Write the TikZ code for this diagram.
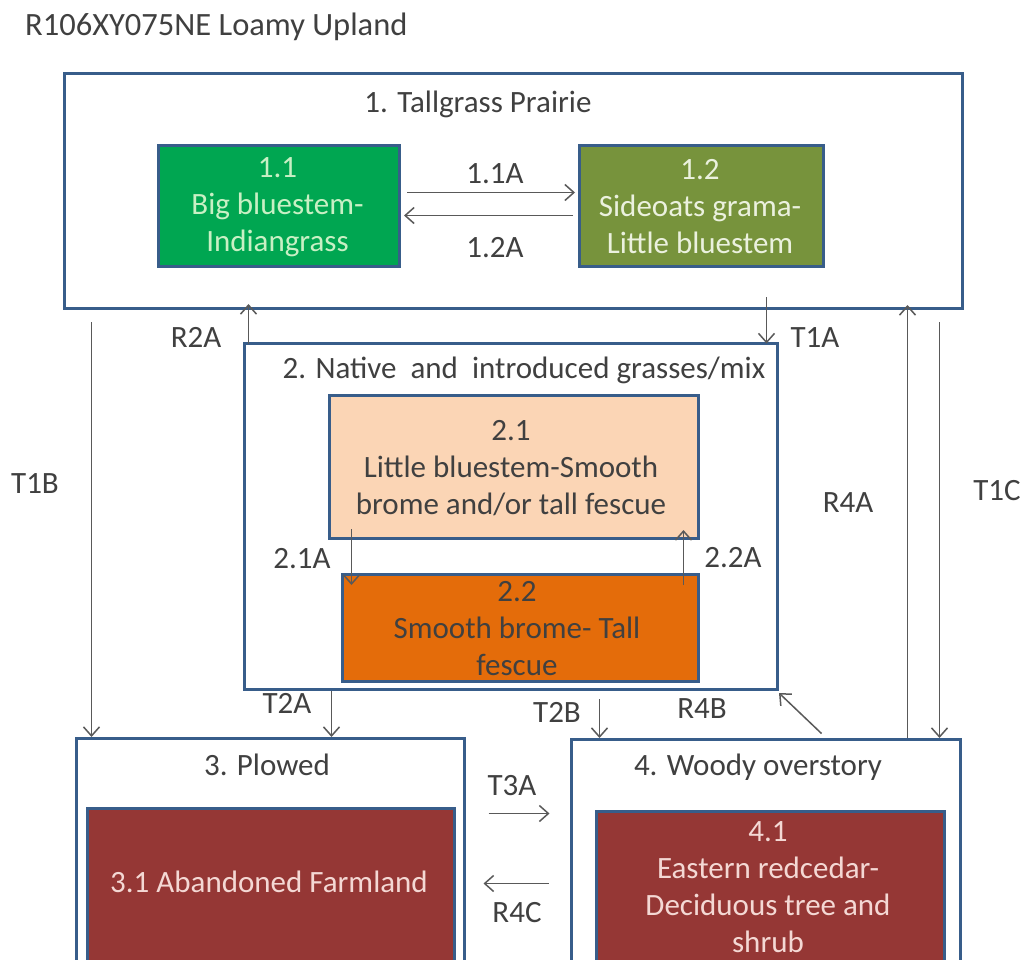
\documentclass[tikz,border=0pt]{standalone}
\usepackage{fontspec}
\setmainfont{Carlito}
\usetikzlibrary{calc,arrows.meta}
\definecolor{bordc}{HTML}{385D8A}
\definecolor{arrc}{HTML}{595959}
\definecolor{txtc}{HTML}{404040}
\definecolor{cA}{HTML}{00A651}
\definecolor{cAt}{HTML}{C8F0C4}
\definecolor{cB}{HTML}{77933C}
\definecolor{cBt}{HTML}{EBF1DE}
\definecolor{cC}{HTML}{FBD5B5}
\definecolor{cD}{HTML}{E46C0A}
\definecolor{cE}{HTML}{953735}
\definecolor{cEt}{HTML}{F4D8D4}
\begin{document}
\begin{tikzpicture}[x=1pt,y=-1pt,
  every node/.style={font=\fontsize{31}{37}\selectfont},
  statebox/.style={draw=bordc, line width=3pt, anchor=north west, inner sep=0pt},
  lbl/.style={text=txtc, inner sep=0pt, anchor=base},
  stext/.style={align=center, inner sep=0pt, anchor=center},
  arr/.style={draw=arrc, line width=1.5pt, -{Straight Barb[length=9pt,width=16pt]}}]
\useasboundingbox (0,0) rectangle (1031,959);
\fill[white] (0,0) rectangle (1031,959);
\clip (0,0) rectangle (1031,959);

% title
\node[lbl, anchor=base west, font=\fontsize{32.5}{37}\selectfont] (title) at (25,35) {R106XY075NE Loamy Upland};

% boxes
\node[statebox, minimum width=898pt, minimum height=235pt] (s1) at (63,72) {};
\node[statebox, fill=cA, minimum width=241pt, minimum height=121pt] (s11) at (157,144) {};
\node[statebox, fill=cB, minimum width=244pt, minimum height=121pt] (s12) at (578,144) {};
\node[statebox, minimum width=533pt, minimum height=346pt] (s2) at (243,342) {};
\node[statebox, fill=cC, minimum width=369pt, minimum height=143pt] (s21) at (328,394) {};
\node[statebox, fill=cD, minimum width=356pt, minimum height=107pt] (s22) at (341,573) {};
\node[statebox, minimum width=388pt, minimum height=260pt] (s3) at (75,737) {};
\node[statebox, fill=cE, minimum width=367pt, minimum height=200pt] (s31) at (86,807) {};
\node[statebox, minimum width=389pt, minimum height=260pt] (s4) at (570,738) {};
\node[statebox, fill=cE, minimum width=348pt, minimum height=200pt] (s41) at (595,810) {};

% state titles
\node[lbl] (h1) at (478,112) {1. Tallgrass Prairie};
\node[lbl] (h2) at (524,378) {2. Native\ \ and\ \ introduced grasses/mix};
\node[lbl] (h3) at (267,775) {3. Plowed};
\node[lbl] (h4) at (758,775) {4. Woody overstory};

% community texts
\node[stext, text=cAt] (t11) at (277.5,207) {1.1\\Big bluestem-\\Indiangrass};
\node[stext, text=cBt] (t12) at (700,207) {1.2\\Sideoats grama-\\Little bluestem};
\node[stext, text=txtc] (t21) at (511,468) {2.1\\Little bluestem-Smooth\\brome and/or tall fescue};
\node[stext, text=txtc] (t22) at (517,629) {2.2\\Smooth brome- Tall\\fescue};
\node[lbl, text=cEt] (t31) at (269,892) {3.1 Abandoned Farmland};
\node[stext, text=cEt] (t41) at (768,887) {4.1\\Eastern redcedar-\\Deciduous tree and\\shrub};

% arrows
\draw[arr] ($(s11.east)+(6,-13.5)$) -- ($(s12.west)+(-3,-13.5)$);
\draw[arr] ($(s12.west)+(-5,9.5)$) -- ($(s11.east)+(3,9.5)$);
\draw[arr] ($(s2.north west)+(5.5,1.5)$) -- ($(s2.north west |- s1.south)+(5.5,-6)$);
\draw[arr] ($(s2.north east |- s1.south)+(-12.5,-13)$) -- ($(s2.north east)+(-12.5,1.5)$);
\draw[arr] ($(s3.north west |- s1.south)+(16.5,12)$) -- ($(s3.north west)+(16.5,0)$);
\draw[arr] ($(s4.north east |- s1.south)+(-22.5,12)$) -- ($(s4.north east)+(-22.5,0)$);
\draw[arr] ($(s4.north east)+(-54.5,0)$) -- ($(s4.north east |- s1.south)+(-54.5,-5)$);
\draw[arr] ($(s2.south west)+(88.5,0)$) -- ($(s2.south west |- s3.north)+(88.5,0)$);
\draw[arr] ($(s4.north west |- s2.south)+(29.5,8)$) -- ($(s4.north west)+(29.5,0)$);
\draw[arr] ($(s4.north west)+(251.5,-4.5)$) -- ($(s2.south east)+(0,2)$);
\draw[arr] ($(s21.south west)+(23.5,-11)$) -- ($(s21.south west |- s22.north)+(23.5,12)$);
\draw[arr] ($(s22.north east)+(-16.5,12)$) -- ($(s22.north east |- s21.south)+(-16.5,-10)$);
\draw[arr] ($(s3.north east)+(22.5,76.5)$) -- ($(s3.north east -| s4.west)+(-20.5,76.5)$);
\draw[arr] ($(s3.north east -| s4.west)+(-21.5,146.5)$) -- ($(s3.north east)+(17.5,146.5)$);

% transition labels
\node[lbl] (l11a) at (495,183) {1.1A};
\node[lbl] (l12a) at (495,257) {1.2A};
\node[lbl] (lr2a) at (196,347) {R2A};
\node[lbl] (lt1a) at (815,347) {T1A};
\node[lbl] (lt1b) at (35,493) {T1B};
\node[lbl] (lr4a) at (848,512) {R4A};
\node[lbl] (lt1c) at (997,500) {T1C};
\node[lbl] (l21a) at (302,568) {2.1A};
\node[lbl] (l22a) at (733,567) {2.2A};
\node[lbl] (lt2a) at (287,713) {T2A};
\node[lbl] (lt2b) at (557,722) {T2B};
\node[lbl] (lr4b) at (702,718) {R4B};
\node[lbl] (lt3a) at (512,795) {T3A};
\node[lbl] (lr4c) at (517,922) {R4C};
\end{tikzpicture}
\end{document}
